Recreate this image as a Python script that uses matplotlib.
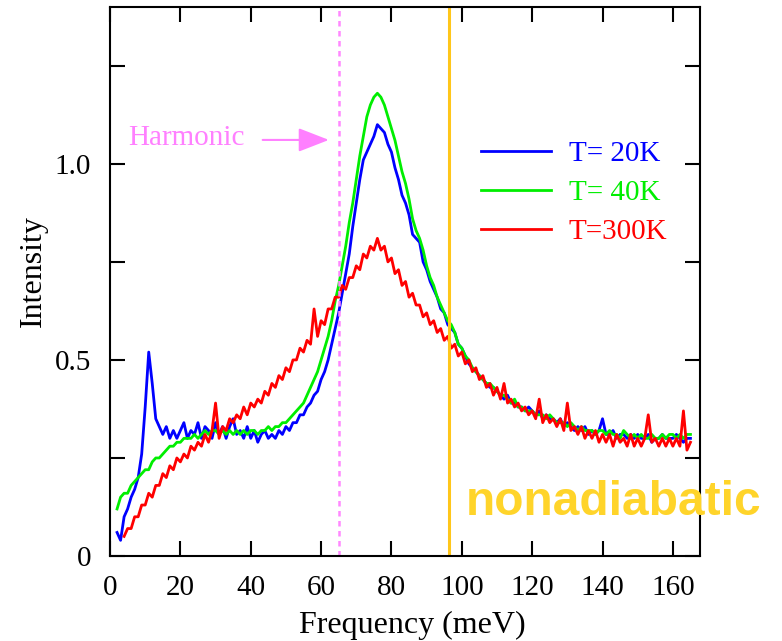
import numpy as np
import matplotlib
matplotlib.use("Agg")
import matplotlib.pyplot as plt

### --- data (1 meV steps, 2..165 meV)
freq = np.arange(2, 166)

int_20K = [
    0.06, 0.04, 0.10, 0.12, 0.15, 0.17, 0.20, 0.26,
    0.38, 0.52, 0.44, 0.35, 0.33, 0.31, 0.33, 0.30, 0.32, 0.30,
    0.32, 0.34, 0.30, 0.32, 0.31, 0.34, 0.30, 0.33, 0.32, 0.30,
    0.34, 0.31, 0.33, 0.30, 0.33, 0.35, 0.31, 0.32, 0.30, 0.33,
    0.30, 0.32, 0.29, 0.31, 0.32, 0.30, 0.31, 0.30, 0.32, 0.31,
    0.33, 0.32, 0.34, 0.34, 0.36, 0.36, 0.38, 0.39, 0.41, 0.42,
    0.45, 0.47, 0.50, 0.54, 0.58, 0.62, 0.67, 0.72, 0.77, 0.84,
    0.90, 0.96, 1.01, 1.03, 1.05, 1.07, 1.10, 1.09, 1.08, 1.05,
    1.03, 0.99, 0.96, 0.92, 0.90, 0.87, 0.82, 0.81, 0.80, 0.75,
    0.73, 0.70, 0.68, 0.66, 0.63, 0.62, 0.59, 0.58, 0.57, 0.54,
    0.53, 0.51, 0.49, 0.48, 0.47, 0.46, 0.45, 0.44, 0.43, 0.43,
    0.42, 0.41, 0.40, 0.41, 0.39, 0.39, 0.38, 0.38, 0.37, 0.38,
    0.37, 0.36, 0.37, 0.35, 0.36, 0.35, 0.35, 0.34, 0.35, 0.33,
    0.34, 0.33, 0.32, 0.33, 0.32, 0.33, 0.31, 0.32, 0.31, 0.32,
    0.35, 0.31, 0.31, 0.32, 0.30, 0.31, 0.31, 0.30, 0.31, 0.30,
    0.31, 0.30, 0.30, 0.31, 0.29, 0.30, 0.30, 0.31, 0.30, 0.30,
    0.30, 0.31, 0.30, 0.29, 0.30, 0.30,
]

int_40K = [
    0.12, 0.15, 0.16, 0.16, 0.18, 0.19, 0.20, 0.21,
    0.22, 0.22, 0.24, 0.25, 0.25, 0.26, 0.27, 0.28, 0.28, 0.29,
    0.29, 0.30, 0.30, 0.30, 0.31, 0.30, 0.31, 0.32, 0.31, 0.32,
    0.32, 0.31, 0.32, 0.31, 0.32, 0.31, 0.32, 0.31, 0.32, 0.31,
    0.32, 0.32, 0.31, 0.32, 0.32, 0.33, 0.32, 0.33, 0.33, 0.34,
    0.34, 0.35, 0.36, 0.37, 0.38, 0.39, 0.41, 0.43, 0.45, 0.47,
    0.50, 0.53, 0.56, 0.60, 0.65, 0.69, 0.74, 0.79, 0.85, 0.90,
    0.96, 1.02, 1.07, 1.12, 1.15, 1.17, 1.18, 1.17, 1.15, 1.12,
    1.09, 1.06, 1.02, 0.98, 0.95, 0.91, 0.86, 0.83, 0.81, 0.78,
    0.74, 0.71, 0.69, 0.66, 0.64, 0.62, 0.60, 0.59, 0.57, 0.54,
    0.53, 0.51, 0.50, 0.48, 0.47, 0.46, 0.45, 0.44, 0.44, 0.43,
    0.42, 0.41, 0.41, 0.40, 0.39, 0.40, 0.38, 0.38, 0.37, 0.37,
    0.37, 0.36, 0.36, 0.36, 0.35, 0.36, 0.35, 0.34, 0.34, 0.34,
    0.33, 0.34, 0.33, 0.32, 0.33, 0.32, 0.32, 0.32, 0.31, 0.32,
    0.32, 0.31, 0.32, 0.31, 0.31, 0.30, 0.32, 0.31, 0.30, 0.31,
    0.30, 0.31, 0.30, 0.30, 0.31, 0.30, 0.30, 0.31, 0.30, 0.31,
    0.31, 0.30, 0.31, 0.30, 0.31, 0.31,
]

int_300K = [
    np.nan, np.nan, 0.05, 0.07, 0.07, 0.10, 0.10, 0.13,
    0.13, 0.16, 0.15, 0.18, 0.18, 0.21, 0.20, 0.23, 0.22, 0.25,
    0.24, 0.26, 0.25, 0.28, 0.27, 0.29, 0.28, 0.31, 0.29, 0.32,
    0.39, 0.30, 0.33, 0.32, 0.35, 0.34, 0.36, 0.35, 0.38, 0.36,
    0.39, 0.38, 0.40, 0.39, 0.42, 0.41, 0.44, 0.43, 0.46, 0.45,
    0.48, 0.47, 0.50, 0.50, 0.53, 0.52, 0.55, 0.54, 0.63, 0.56,
    0.60, 0.59, 0.63, 0.63, 0.66, 0.66, 0.69, 0.68, 0.71, 0.71,
    0.74, 0.73, 0.77, 0.76, 0.79, 0.78, 0.81, 0.78, 0.79, 0.75,
    0.76, 0.72, 0.73, 0.69, 0.70, 0.66, 0.67, 0.64, 0.64, 0.61,
    0.62, 0.59, 0.60, 0.57, 0.58, 0.55, 0.56, 0.53, 0.54, 0.51,
    0.52, 0.49, 0.50, 0.47, 0.48, 0.45, 0.46, 0.43, 0.44, 0.41,
    0.43, 0.40, 0.44, 0.39, 0.40, 0.38, 0.39, 0.37, 0.38, 0.36,
    0.37, 0.35, 0.40, 0.34, 0.36, 0.34, 0.35, 0.33, 0.35, 0.32,
    0.39, 0.32, 0.33, 0.31, 0.33, 0.30, 0.32, 0.30, 0.32, 0.29,
    0.31, 0.29, 0.31, 0.28, 0.31, 0.29, 0.30, 0.28, 0.31, 0.28,
    0.30, 0.28, 0.30, 0.36, 0.29, 0.30, 0.28, 0.30, 0.28, 0.30,
    0.28, 0.30, 0.28, 0.37, 0.27, 0.29,
]

labels = ["T= 20K", "T= 40K", "T=300K"]
colors = ["#0000ff", "#00ee00", "#ff0000"]

harmonic_x = 65.0
nonadiabatic_x = 96.3

### --- plot
plt.rcParams["font.family"] = "Liberation Serif"
plt.rcParams["font.size"] = 21

fig = plt.figure(figsize=(7.82, 6.41), dpi=100)
ax = fig.add_axes([0.1407, 0.1326, 0.7544, 0.8565])

for y, lab, c in zip([int_20K, int_40K, int_300K], labels, colors):
    ax.plot(freq, y, color=c, lw=2.0, label=lab)

ax.axvline(harmonic_x, color="#ff88ff", lw=1.8, dashes=(2.2, 1.8))
ax.axvline(nonadiabatic_x, color="#ffc61a", lw=2.2)

ax.text(5.1, 1.048, "Harmonic", color="#ff80ff", fontsize=21, va="baseline")
ax.annotate("", xy=(63.0, 1.061), xytext=(42.6, 1.061),
            arrowprops=dict(arrowstyle="-|>,head_length=0.9,head_width=0.35",
                            color="#ff80ff", lw=1.5))
ax.text(101, 0.105, "nonadiabatic", color="#ffd42a", fontsize=34.5,
        family="Liberation Sans", weight="bold", va="baseline", clip_on=False)

ax.set_xlim(0, 167.7)
ax.set_ylim(0, 1.4)
ax.set_xticks(np.arange(0, 161, 20))
ax.set_yticks([0, 0.25, 0.5, 0.75, 1.0, 1.25])
ax.set_yticklabels(["0", "", "0.5", "", "1.0", ""])
ax.tick_params(direction="in", length=11, width=1.5, top=True, right=True,
               pad=13.5)
for s in ax.spines.values():
    s.set_linewidth(1.5)

ax.set_xlabel("Frequency (meV)", fontsize=23)
ax.set_ylabel("Intensity", fontsize=23)
ax.xaxis.set_label_coords(0.512, -0.1)
ax.yaxis.set_label_coords(-0.106, 0.519)

leg = ax.legend(loc="upper left", bbox_to_anchor=(0.629, 0.756), frameon=False,
                borderaxespad=0, borderpad=0, handlelength=2.4,
                handletextpad=0.6, labelspacing=0.43, labelcolor="linecolor")

plt.savefig("out.png", dpi=100)
